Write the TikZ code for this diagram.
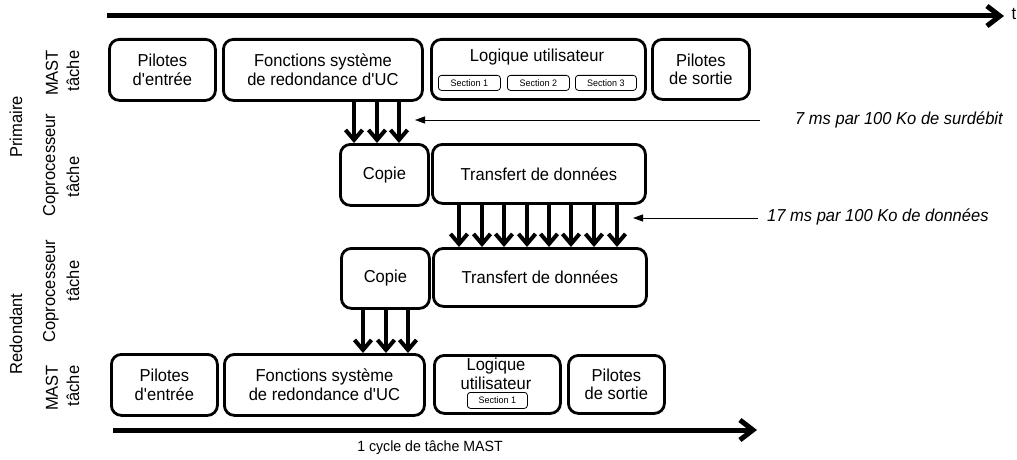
\documentclass[tikz,border=0pt]{standalone}
\usepackage{fontspec}
\setmainfont{Liberation Sans}[FakeStretch=0.955]
\usetikzlibrary{arrows.meta,calc}
\newcommand{\apos}{\textquotesingle}
\tikzset{
  box/.style={draw, line width=2.8pt, rounded corners=10pt, anchor=north west, align=center, inner sep=0pt,
    font=\fontsize{17.3}{18.8}\selectfont},
  secbox/.style={draw, line width=0.8pt, rounded corners=3pt, anchor=north west, inner sep=0pt,
    font=\fontsize{9.4}{10}\selectfont},
  lbl/.style={align=center, inner sep=0pt, font=\fontsize{17.3}{18.8}\selectfont},
  side/.style={rotate=90, inner sep=0pt, font=\fontsize{17.3}{18.8}\selectfont},
  note/.style={anchor=west, inner sep=0pt, font=\fontsize{17.3}{18.8}\selectfont\itshape},
  bigarrow/.style={line width=4pt, -{Straight Barb[length=10pt,width=17pt]}},
  timeline/.style={line width=5pt, -{Straight Barb[length=13pt,width=20pt]}},
  thinarrow/.style={line width=1pt, -{Triangle[length=10pt,width=7pt]}}
}
\begin{document}
\begin{tikzpicture}[x=1pt,y=-1pt]
\useasboundingbox (0,0) rectangle (1017,460);

% time axis
\coordinate (ta) at (107,16);
\coordinate (tb) at (1004,16);
\draw[timeline] (ta) -- (tb);
\node[lbl] (tlab) at (1014,14) {t};

% side labels
\node[side] (prim) at (16,127) {Primaire};
\node[side] (mast1) at (52,73) {MAST};
\node[side] (tache1) at (73,71) {tâche};
\node[side] (cop1) at (51,165) {Coprocesseur};
\node[side] (tache2) at (73,177) {tâche};
\node[side] (red) at (16,334) {Redondant};
\node[side] (cop2) at (51,291) {Coprocesseur};
\node[side] (tache3) at (73,281) {tâche};
\node[side] (mast2) at (52,388) {MAST};
\node[side] (tache4) at (73,386) {tâche};

% primary MAST row
\node[box, minimum width=106pt, minimum height=61pt] (pe1) at (108,38) {Pilotes\\d\apos entrée};
\node[box, minimum width=199pt, minimum height=61pt] (fs1) at (222,38) {Fonctions système\\de redondance d\apos UC};
\node[box, minimum width=214pt, minimum height=60pt] (lu1) at (430,38) {};
\node[lbl] (lu1t) at (537,57) {Logique utilisateur};
\node[secbox, minimum width=62pt, minimum height=15pt] (s1) at (438,75) {Section 1};
\node[secbox, minimum width=62pt, minimum height=15pt] (s2) at (507,75) {Section 2};
\node[secbox, minimum width=61pt, minimum height=15pt] (s3) at (575,75) {Section 3};
\node[box, minimum width=97pt, minimum height=60pt] (ps1) at (651,38) {Pilotes\\de sortie};

% primary coprocessor row
\node[box, minimum width=88pt, minimum height=61pt] (cp1) at (339,143) {Copie};
\node[box, minimum width=213pt, minimum height=59pt] (td1) at (431,143) {Transfert de données};

% redundant coprocessor row
\node[box, minimum width=88pt, minimum height=60pt] (cp2) at (340,247) {Copie};
\node[box, minimum width=213pt, minimum height=58pt] (td2) at (432,247) {Transfert de données};

% redundant MAST row
\node[box, minimum width=106pt, minimum height=61pt] (pe2) at (110,353) {Pilotes\\d\apos entrée};
\node[box, minimum width=200pt, minimum height=61pt] (fs2) at (223,353) {Fonctions système\\de redondance d\apos UC};
\node[box, minimum width=126pt, minimum height=58pt] (lu2) at (433,354) {};
\node[lbl] (lu2t) at (496,374) {Logique\\utilisateur};
\node[secbox, minimum width=60pt, minimum height=16pt] (ss1) at (467,392) {Section 1};
\node[box, minimum width=96pt, minimum height=58pt] (ps2) at (567,354) {Pilotes\\de sortie};

% thick transfer arrows
\foreach \x in {354,377,399}
  \draw[bigarrow] (\x,0 |- fs1.south) -- (\x,0 |- cp1.north);
\foreach \x in {459,482,504,527,549,571,594,617}
  \draw[bigarrow] (\x,0 |- td1.south) -- (\x,0 |- td2.north);
\foreach \x in {363,386,408}
  \draw[bigarrow] (\x,0 |- cp2.south) -- (\x,0 |- fs2.north);

% annotations
\coordinate (a7s) at (760,120);
\coordinate (a7e) at (415,120);
\draw[thinarrow] (a7s) -- (a7e);
\node[note] (n7) at (795,120) {7 ms par 100 Ko de surdébit};
\coordinate (a17s) at (758,218);
\coordinate (a17e) at (633,218);
\draw[thinarrow] (a17s) -- (a17e);
\node[note] (n17) at (767,217) {17 ms par 100 Ko de données};

% cycle axis
\coordinate (ca) at (113,430);
\coordinate (cb) at (757,430);
\draw[timeline] (ca) -- (cb);
\node[inner sep=0pt, font=\fontsize{14.8}{16}\selectfont] (cyc) at (430,448) {1 cycle de tâche MAST};
\end{tikzpicture}
\end{document}
